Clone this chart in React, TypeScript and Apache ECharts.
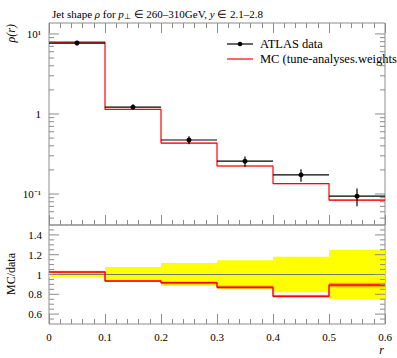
import React, { useEffect, useRef } from "react";
import * as echarts from "echarts";

const binEdges = [0, 0.1, 0.2, 0.3, 0.4, 0.5, 0.6];
const dataVals = [7.7, 1.22, 0.473, 0.257, 0.173, 0.094];
const dataRelErr = [0.025, 0.075, 0.115, 0.145, 0.18, 0.25];
const mcVals = [7.9, 1.14, 0.433, 0.224, 0.135, 0.084];
const mcRelErr = [0.012, 0.01, 0.015, 0.02, 0.02, 0.025];

const mainMajorTicks = [0.1, 1, 10];
const mainMinorTicks = [0.05, 0.06, 0.07, 0.08, 0.09, 0.2, 0.3, 0.4, 0.5, 0.6, 0.7, 0.8, 0.9, 2, 3, 4, 5, 6, 7, 8, 9];
const ratioMajorTicks = [0.6, 0.8, 1.0, 1.2, 1.4];
const ratioMinorTicks = [0.55, 0.65, 0.7, 0.75, 0.85, 0.9, 0.95, 1.05, 1.1, 1.15, 1.25, 1.3, 1.35, 1.45];

const FONT = "Liberation Serif";
const AX = "#8c8c8c";

export default function App() {
  const ref = useRef<HTMLDivElement>(null);
  useEffect(() => {
    if (!ref.current) return;
    const chart = echarts.init(ref.current, undefined, { renderer: "svg" });

    const nb = dataVals.length;
    const lo = (i: number) => binEdges[i];
    const hi = (i: number) => binEdges[i + 1];
    const ratio = mcVals.map((v, i) => v / dataVals[i]);

    const stepPts = (vals: number[]) => {
      const pts: number[][] = vals.map((v, i) => [binEdges[i], v]);
      pts.push([binEdges[nb], vals[nb - 1]]);
      return pts;
    };

    const bandData = (vals: number[], errs: number[]) =>
      vals.map((v, i) => [lo(i), hi(i), v * (1 - errs[i]), v * (1 + errs[i])]);

    const rectRender = (fill: string, opacity: number) => (params: any, api: any) => {
      const p1 = api.coord([api.value(0), api.value(3)]);
      const p2 = api.coord([api.value(1), api.value(2)]);
      return {
        type: "rect",
        shape: { x: p1[0], y: p1[1], width: p2[0] - p1[0], height: p2[1] - p1[1] },
        style: { fill, opacity },
      };
    };

    const tickRender = (params: any, api: any) => {
      const cs = params.coordSys;
      const y = api.coord([0.3, api.value(1)])[1];
      const len = api.value(2) ? 10 : 5;
      return {
        type: "group",
        children: [
          { type: "line", shape: { x1: cs.x, y1: y, x2: cs.x + len, y2: y }, style: { stroke: AX, lineWidth: 1 } },
          { type: "line", shape: { x1: cs.x + cs.width - len, y1: y, x2: cs.x + cs.width, y2: y }, style: { stroke: AX, lineWidth: 1 } },
        ],
      };
    };

    const dataRender = (params: any, api: any) => {
      const x0 = api.value(0), x1 = api.value(1), v = api.value(2), el = api.value(3), eh = api.value(4);
      const xm = (x0 + x1) / 2;
      const a = api.coord([x0, v]);
      const b = api.coord([x1, v]);
      const m = api.coord([xm, v]);
      const t = api.coord([xm, eh]);
      const bt = api.coord([xm, el]);
      return {
        type: "group",
        children: [
          { type: "line", shape: { x1: a[0], y1: a[1], x2: b[0], y2: b[1] }, style: { stroke: "#000", lineWidth: 1.2 } },
          { type: "line", shape: { x1: t[0], y1: t[1], x2: bt[0], y2: bt[1] }, style: { stroke: "#000", lineWidth: 1.2 } },
          { type: "circle", shape: { cx: m[0], cy: m[1], r: 2.5 }, style: { fill: "#000" } },
        ],
      };
    };

    const xBase = {
      type: "value",
      min: 0,
      max: 0.6,
      interval: 0.1,
      axisLine: { show: false },
      splitLine: { show: false },
      axisTick: { show: true, inside: true, length: 10, lineStyle: { color: AX } },
      minorTick: { show: true, splitNumber: 5, length: 5, lineStyle: { color: AX } },
      axisLabel: { show: false },
    };

    const supLabel = (v: number) => {
      const e = Math.log10(v);
      const r = Math.round(e);
      if (Math.abs(e - r) > 1e-6) return "";
      if (r === 0) return "1";
      if (r === 1) return "10¹";
      if (r === -1) return "10⁻¹";
      return "10^" + r;
    };

    const option: any = {
      animation: false,
      title: {
        left: 47,
        top: 3,
        text: "Jet shape {i|ρ} for {i|p}{s|⊥} ∈ 260–310GeV, {i|y} ∈ 2.1–2.8",
        textStyle: {
          fontFamily: FONT,
          fontSize: 11,
          fontWeight: "normal",
          color: "#000",
          rich: {
            i: { fontFamily: FONT, fontSize: 11, fontStyle: "italic", color: "#000" },
            s: { fontFamily: FONT, fontSize: 8, color: "#000", padding: [4, 0, 0, 0] },
          },
        },
      },
      grid: [
        { left: 49, top: 23, width: 336, height: 202, show: true, borderColor: AX, borderWidth: 1, backgroundColor: "transparent" },
        { left: 49, top: 225, width: 336, height: 99, show: true, borderColor: AX, borderWidth: 1, backgroundColor: "transparent" },
      ],
      xAxis: [
        { ...xBase, gridIndex: 0, position: "bottom" },
        { ...xBase, gridIndex: 0, position: "top" },
        {
          ...xBase,
          gridIndex: 1,
          position: "bottom",
          axisLabel: {
            show: true,
            margin: 7,
            fontFamily: FONT,
            fontSize: 11,
            color: "#000",
            formatter: (v: number) => (v === 0 ? "0" : String(+v.toFixed(1))),
          },
        },
      ],
      yAxis: [
        {
          type: "log",
          gridIndex: 0,
          min: 0.041,
          max: 13.7,
          axisLine: { show: false },
          axisTick: { show: false },
          minorTick: { show: false },
          splitLine: { show: false },
          axisLabel: { margin: 8, fontFamily: FONT, fontSize: 11, color: "#000", formatter: supLabel },
        },
        {
          type: "value",
          gridIndex: 1,
          min: 0.5,
          max: 1.5,
          axisLine: { show: false },
          axisTick: { show: false },
          splitLine: { show: false },
          axisLabel: {
            margin: 7,
            fontFamily: FONT,
            fontSize: 11,
            color: "#000",
            formatter: (v: number) => {
              const r = Math.round(v * 10) / 10;
              return ratioMajorTicks.some((t) => Math.abs(t - r) < 1e-6) && Math.abs(v - r) < 1e-6 ? String(r) : "";
            },
          },
        },
      ],
      series: [
        {
          type: "custom",
          xAxisIndex: 0,
          yAxisIndex: 0,
          renderItem: rectRender("#ff0000", 0.35),
          data: bandData(mcVals, mcRelErr),
          encode: { x: [0, 1], y: [2, 3] },
          silent: true,
        },
        {
          type: "line",
          xAxisIndex: 0,
          yAxisIndex: 0,
          step: "end",
          symbol: "none",
          data: stepPts(mcVals),
          lineStyle: { color: "#ff0000", width: 1.2 },
          z: 3,
        },
        {
          type: "custom",
          xAxisIndex: 0,
          yAxisIndex: 0,
          renderItem: dataRender,
          data: dataVals.map((v, i) => [lo(i), hi(i), v, v * (1 - dataRelErr[i]), v * (1 + dataRelErr[i])]),
          encode: { x: [0, 1], y: [2, 3, 4] },
          z: 4,
        },
        {
          type: "custom",
          xAxisIndex: 0,
          yAxisIndex: 0,
          renderItem: tickRender,
          data: [...mainMajorTicks.map((t) => [0.3, t, 1]), ...mainMinorTicks.map((t) => [0.3, t, 0])],
          encode: { x: 0, y: 1 },
          silent: true,
          z: 5,
        },
        {
          type: "custom",
          xAxisIndex: 2,
          yAxisIndex: 1,
          renderItem: rectRender("#ffff00", 1),
          data: bandData(dataVals.map(() => 1), dataRelErr),
          encode: { x: [0, 1], y: [2, 3] },
          silent: true,
          z: 1,
        },
        {
          type: "custom",
          xAxisIndex: 2,
          yAxisIndex: 1,
          renderItem: rectRender("#ff0000", 0.35),
          data: bandData(ratio, mcRelErr),
          encode: { x: [0, 1], y: [2, 3] },
          silent: true,
          z: 2,
        },
        {
          type: "line",
          xAxisIndex: 2,
          yAxisIndex: 1,
          symbol: "none",
          data: [[0, 1], [0.6, 1]],
          lineStyle: { color: "#777", width: 1 },
          z: 3,
        },
        {
          type: "line",
          xAxisIndex: 2,
          yAxisIndex: 1,
          step: "end",
          symbol: "none",
          data: stepPts(ratio),
          lineStyle: { color: "#ff0000", width: 1.5 },
          z: 4,
        },
        {
          type: "custom",
          xAxisIndex: 2,
          yAxisIndex: 1,
          renderItem: tickRender,
          data: [...ratioMajorTicks.map((t) => [0.3, t, 1]), ...ratioMinorTicks.map((t) => [0.3, t, 0])],
          encode: { x: 0, y: 1 },
          silent: true,
          z: 5,
        },
      ],
      graphic: [
        {
          type: "text",
          x: 11,
          y: 24,
          rotation: Math.PI / 2,
          style: { text: "ρ(r)", fontFamily: FONT, fontSize: 12, fontStyle: "italic", fill: "#000", align: "right", verticalAlign: "middle" },
        },
        {
          type: "text",
          x: 11,
          y: 274,
          rotation: Math.PI / 2,
          style: { text: "MC/data", fontFamily: FONT, fontSize: 12, fill: "#000", align: "center", verticalAlign: "middle" },
        },
        {
          type: "text",
          x: 384,
          y: 350,
          style: { text: "r", fontFamily: FONT, fontSize: 12, fontStyle: "italic", fill: "#000", align: "right", verticalAlign: "middle" },
        },
        { type: "line", shape: { x1: 227, y1: 44, x2: 253, y2: 44 }, style: { stroke: "#000", lineWidth: 1.2 } },
        { type: "circle", shape: { cx: 240, cy: 44, r: 2.3 }, style: { fill: "#000" } },
        {
          type: "text",
          x: 260,
          y: 44,
          style: { text: "ATLAS data", fontFamily: FONT, fontSize: 12.5, fill: "#000", verticalAlign: "middle" },
        },
        { type: "line", shape: { x1: 227, y1: 59, x2: 253, y2: 59 }, style: { stroke: "#ff0000", lineWidth: 1.2 } },
        {
          type: "text",
          x: 260,
          y: 59,
          style: { text: "MC (tune-analyses.weights)", fontFamily: FONT, fontSize: 12.5, fill: "#000", verticalAlign: "middle" },
        },
      ],
    };
    chart.setOption(option);
    return () => chart.dispose();
  }, []);
  return <div ref={ref} style={{ position: "fixed", left: 0, top: 0, width: 397, height: 358, background: "#fff" }} />;
}
